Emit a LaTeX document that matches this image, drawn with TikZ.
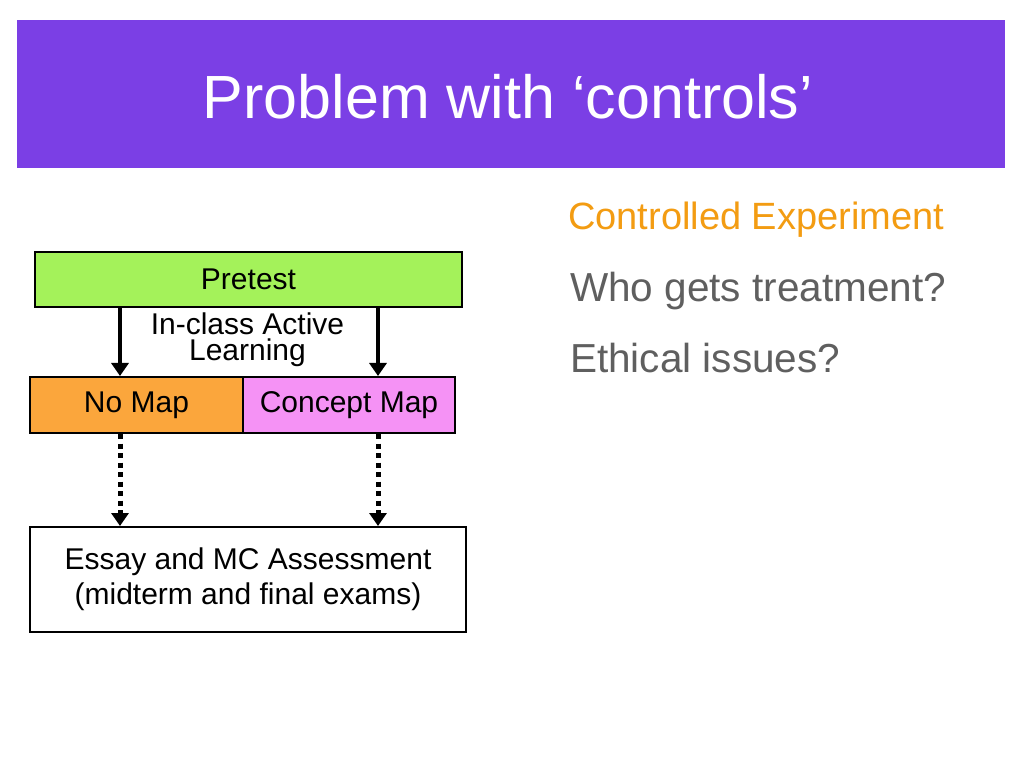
\documentclass[tikz,border=0pt]{standalone}
\usepackage{fontspec}
\setmainfont{Liberation Sans}
\usetikzlibrary{arrows.meta}
\definecolor{titlepurple}{HTML}{7B3FE5}
\definecolor{pregreen}{HTML}{A4F25A}
\definecolor{nomaporange}{HTML}{FBA63C}
\definecolor{cmpink}{HTML}{F592F5}
\definecolor{ctrlorange}{HTML}{F39C12}
\definecolor{bodygray}{HTML}{5F5F5F}
\tikzset{
  boxnode/.style={draw=black, line width=2pt, inner sep=0pt, font=\fontsize{30}{35}\selectfont, align=center},
  solidarrow/.style={line width=4pt, -{Triangle[length=13pt,width=17pt]}},
  dotarrow/.style={line width=5pt, dash pattern=on 5pt off 4.5pt, -{Triangle[length=13pt,width=17pt]}},
}
\begin{document}
\begin{tikzpicture}[x=1pt,y=-1pt]
\useasboundingbox (0,0) rectangle (1023,767);
\fill[white] (0,0) rectangle (1023,767);
% title band
\fill[titlepurple] (17,20) rectangle (1005,168);
\node[anchor=base, text=white, font=\fontsize{61}{70}\selectfont, inner sep=0pt] (title) at (508,119) {Problem with ‘controls’};
% right text
\node[anchor=base west, text=ctrlorange, font=\fontsize{38}{44}\selectfont, inner sep=0pt] (ce) at (568,230) {Controlled Experiment};
\node[anchor=base west, text=bodygray, font=\fontsize{40.5}{46}\selectfont, inner sep=0pt] (who) at (570,302) {Who gets treatment?};
\node[anchor=base west, text=bodygray, font=\fontsize{40.5}{46}\selectfont, inner sep=0pt] (eth) at (570,372) {Ethical issues?};
% diagram
\node[boxnode, fill=pregreen, minimum width=427pt, minimum height=55pt] (pre) at (248.5,279.5) {Pretest};
\node[boxnode, fill=nomaporange, minimum width=213pt, minimum height=56pt] (nomap) at (136.5,405) {No Map};
\node[boxnode, fill=cmpink, minimum width=212pt, minimum height=56pt] (cmap) at (349,405) {Concept Map};
\node[boxnode, fill=white, minimum width=436pt, minimum height=105pt] (assess) at (248,579.5) {\raisebox{-4pt}{\setlength{\tabcolsep}{0pt}\begin{tabular}{c}Essay and MC Assessment\\(midterm and final exams)\end{tabular}}};
\node[anchor=base, inner sep=0pt, align=center, font=\fontsize{30}{25.5}\selectfont] (lab) at (247.5,360) {In-class Active\\Learning};
\coordinate (xa) at (120,0);
\coordinate (xb) at (378,0);
\draw[solidarrow] (pre.south -| xa) -- (nomap.north -| xa);
\draw[solidarrow] (pre.south -| xb) -- (cmap.north -| xb);
\draw[dotarrow] (nomap.south -| xa) -- (assess.north -| xa);
\draw[dotarrow] (cmap.south -| xb) -- (assess.north -| xb);
\end{tikzpicture}
\end{document}
